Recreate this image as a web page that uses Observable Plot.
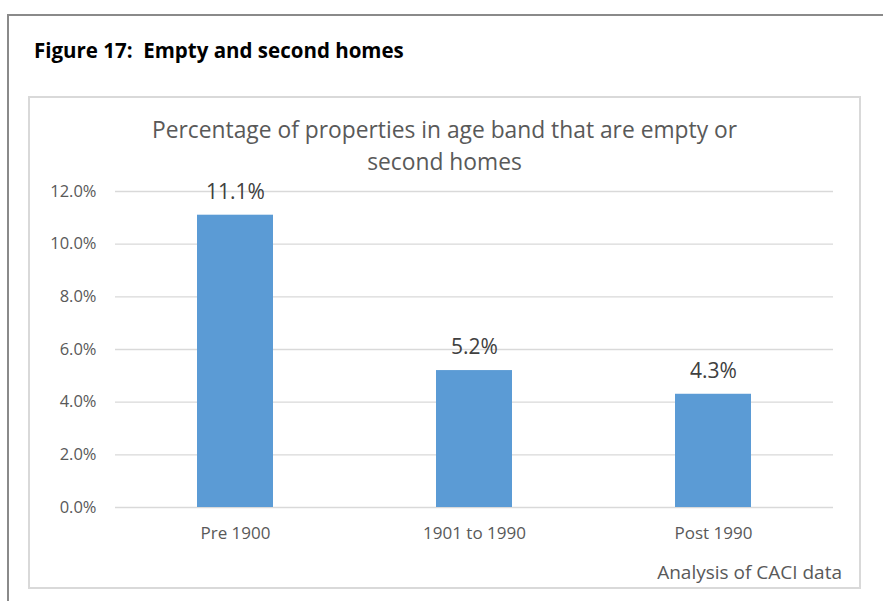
<!DOCTYPE html>
<html><head><meta charset="utf-8">
<script src="https://cdn.jsdelivr.net/npm/d3@7"></script>
<script src="https://cdn.jsdelivr.net/npm/@observablehq/plot@0.6"></script>
<style>
body{margin:0;background:#fff;}
#wrap{position:relative;width:883px;height:601px;overflow:hidden;font-family:"Open Sans",sans-serif;background:#fff;}
.outer{position:absolute;left:7px;top:14px;width:900px;height:700px;border-top:2px solid #8a8a8a;border-left:2px solid #8a8a8a;}
.inner{position:absolute;left:28px;top:96px;width:833px;height:493px;border:2px solid #d9d9d9;box-sizing:border-box;}
#fig{position:absolute;left:34px;top:37px;font-weight:700;font-size:20.5px;color:#000;white-space:nowrap;line-height:26px;}
#ctitle{position:absolute;left:29px;width:831px;top:114px;text-align:center;font-size:22.8px;color:#595959;line-height:32px;}
#cap{position:absolute;right:41px;top:559px;font-size:19px;color:#595959;white-space:nowrap;line-height:26px;}
#chart{position:absolute;left:0;top:0;}
</style>
</head><body>
<div id="wrap">
  <div class="outer"></div>
  <div class="inner"></div>
  <div id="chart"></div>
  <div id="fig">Figure 17:&nbsp; Empty and second homes</div>
  <div id="ctitle">Percentage of properties in age band that are empty or<br>second homes</div>
  <div id="cap">Analysis of CACI data</div>
</div>
<script>
const categories = ["Pre 1900", "1901 to 1990", "Post 1990"];
const values = [11.1, 5.2, 4.3];
const yTicks = [0, 2, 4, 6, 8, 10, 12];

const data = categories.map((c, i) => ({category: c, value: values[i]}));
const pct = d => d.toFixed(1) + "%";

const chart = Plot.plot({
  width: 883,
  height: 601,
  marginLeft: 115,
  marginRight: 50,
  marginTop: 191,
  marginBottom: 94,
  style: {fontFamily: '"Open Sans", sans-serif', color: "#595959", background: "transparent"},
  x: {domain: categories, paddingInner: 0.684, paddingOuter: 0.342, axis: null},
  y: {domain: [0, 12], axis: null},
  marks: [
    Plot.ruleY(yTicks, {stroke: "#d9d9d9", strokeWidth: 1.3}),
    Plot.barY(data, {x: "category", y: "value", fill: "#5b9bd5"}),
    Plot.text(data, {x: "category", y: "value", text: d => pct(d.value), dy: -23, fontSize: 21, fill: "#404040"}),
    Plot.axisY({ticks: yTicks, tickFormat: pct, tickSize: 0, tickPadding: 19, fontSize: 16.5, label: null}),
    Plot.axisX({tickSize: 0, tickPadding: 19, fontSize: 17, label: null})
  ]
});
document.getElementById("chart").appendChild(chart);
</script>
</body></html>
